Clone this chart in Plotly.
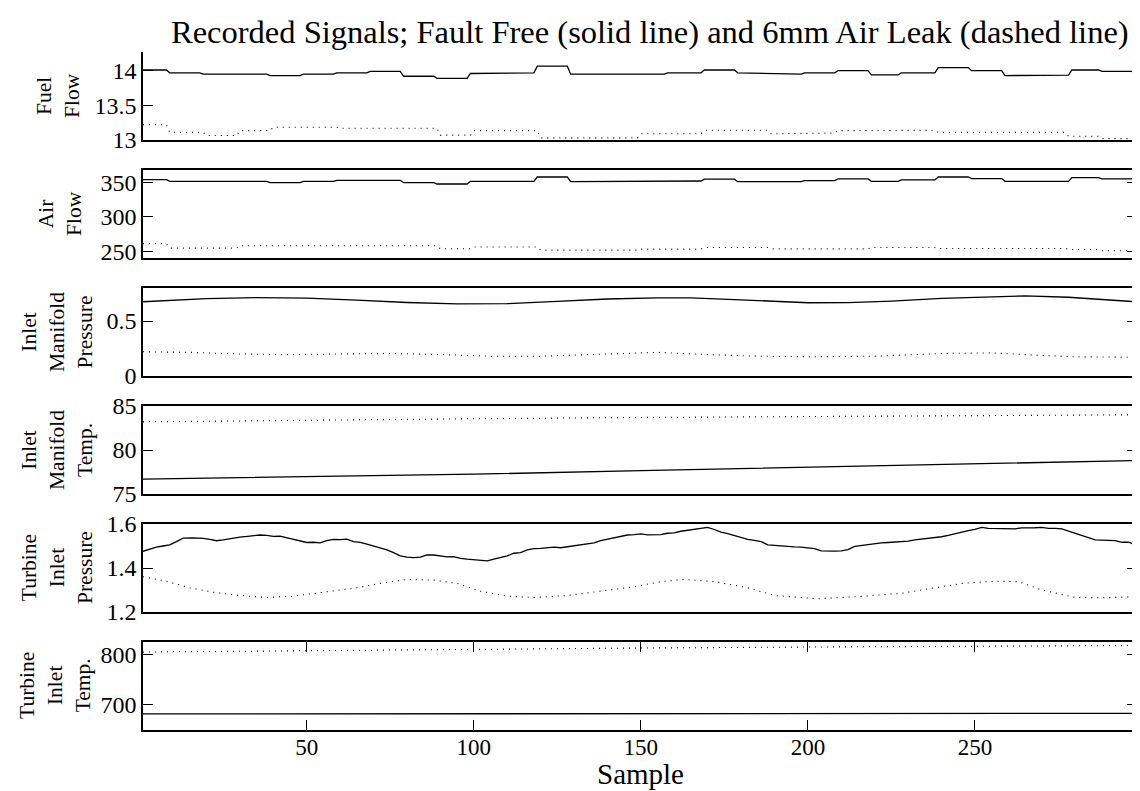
import plotly.graph_objects as go

# ---------------- data ----------------
# Panel 1: Fuel Flow
fuel_ok_x = [1, 8, 9, 18, 19, 38, 39, 48, 49, 58, 59, 68, 69, 78, 79, 88, 89, 98, 99, 108, 109, 118, 119, 128,
             129, 157, 158, 168, 169, 178, 179, 198, 199, 208, 209, 218, 219, 227, 228, 238, 239, 248, 249, 258,
             259, 268, 269, 278, 279, 287, 288, 297, 298]
fuel_ok_y = [14.01, 14.01, 13.97, 13.97, 13.95, 13.95, 13.93, 13.93, 13.95, 13.95, 13.97, 13.97, 13.99, 13.99,
             13.92, 13.92, 13.89, 13.89, 13.96, 13.96, 13.97, 13.97, 14.065, 14.065, 13.95, 13.95, 13.97, 13.97,
             14.01, 14.01, 13.97, 13.95, 13.97, 13.97, 14.00, 14.00, 13.94, 13.94, 13.97, 13.97, 14.045, 14.045,
             14.00, 14.00, 13.93, 13.93, 13.935, 13.935, 14.01, 14.01, 13.99, 13.99, 13.92]
fuel_leak_x = [1, 8, 9, 19, 20, 29, 30, 39, 40, 59, 60, 89, 90, 99, 100, 119, 120, 149, 150, 168, 169, 188,
               189, 198, 199, 208, 209, 218, 219, 238, 239, 277, 278, 287, 288, 298]
fuel_leak_y = [13.22, 13.22, 13.11, 13.11, 13.065, 13.065, 13.135, 13.135, 13.185, 13.185, 13.17, 13.17,
               13.07, 13.07, 13.135, 13.135, 13.03, 13.03, 13.09, 13.09, 13.14, 13.14, 13.09, 13.09, 13.10, 13.10,
               13.135, 13.135, 13.14, 13.14, 13.11, 13.11, 13.055, 13.055, 13.02, 13.02]

# Panel 2: Air Flow
air_ok_x = [1, 8, 9, 38, 39, 48, 49, 58, 59, 78, 79, 88, 89, 98, 99, 118, 119, 128, 129, 157, 158, 168, 169, 178,
            179, 198, 199, 208, 209, 218, 219, 227, 228, 238, 239, 248, 249, 258, 259, 278, 279, 287, 288, 297, 298]
air_ok_y = [353.9, 353.9, 351.5, 351.5, 349.5, 349.5, 351.5, 351.5, 353, 353, 349.5, 349.5, 347.6, 347.6,
            351.5, 351.5, 357.8, 357.8, 351, 351, 352, 352, 354.6, 354.6, 351, 351, 352.5, 352.5, 355, 355,
            351.5, 351.5, 353.5, 353.5, 357.8, 357.8, 355.5, 355.5, 351.5, 351.5, 357, 357, 355, 355, 352]
air_leak_x = [1, 8, 9, 29, 30, 89, 90, 99, 100, 119, 120, 149, 150, 168, 169, 188, 189, 218, 219, 238,
              239, 277, 278, 287, 288, 298]
air_leak_y = [260.7, 260.7, 254.4, 254.4, 257.8, 257.8, 253.5, 253.5, 256, 256, 251.5, 251.5, 252.9, 252.9,
              255.2, 255.2, 253.3, 253.3, 255.2, 255.2, 253.8, 253.8, 252.4, 252.4, 250.5, 250.5]

# Panel 3: Inlet Manifold Pressure
imp_ok_x = [1, 10, 20, 35, 50, 65, 80, 95, 110, 125, 140, 155, 165, 178, 190, 200, 212, 225, 240, 255, 265, 278, 290, 298]
imp_ok_y = [0.675, 0.69, 0.703, 0.713, 0.708, 0.69, 0.668, 0.655, 0.658, 0.678, 0.70, 0.71, 0.71, 0.695,
            0.678, 0.666, 0.667, 0.68, 0.705, 0.722, 0.728, 0.716, 0.695, 0.675]
imp_leak_x = [1, 15, 30, 45, 60, 75, 90, 105, 120, 135, 145, 155, 170, 185, 200, 220, 240, 255, 268, 280, 298]
imp_leak_y = [0.22, 0.215, 0.2, 0.195, 0.2, 0.205, 0.195, 0.18, 0.18, 0.195, 0.21, 0.215, 0.195, 0.18,
              0.175, 0.18, 0.205, 0.21, 0.19, 0.175, 0.17]

# Panel 4: Inlet Manifold Temp.
imt_ok_x = [1, 50, 100, 150, 200, 250, 298]
imt_ok_y = [76.7, 76.95, 77.25, 77.65, 78.05, 78.4, 78.8]
imt_leak_x = [1, 50, 100, 150, 200, 250, 298]
imt_leak_y = [83.2, 83.4, 83.55, 83.7, 83.8, 83.9, 84.0]

# Panel 5: Turbine Inlet Pressure
tip_ok_x = [1, 3, 5, 7, 9, 11, 13, 16, 19, 21, 23, 25, 27, 30, 33, 36, 38, 40, 42, 44, 46, 48, 50, 52, 54, 56,
            58, 60, 62, 64, 66, 68, 70, 72, 74, 76, 78, 80, 82, 84, 86, 88, 90, 92, 94, 96, 98, 100, 102, 104,
            106, 108, 110, 112, 114, 116, 118, 120, 122, 124, 126, 128, 130, 132, 134, 136, 138, 140, 142, 144,
            146, 148, 150, 152, 154, 156, 158, 160, 162, 164, 166, 168, 170, 172, 174, 176, 178, 180, 182, 184,
            186, 188, 190, 192, 194, 196, 198, 200, 202, 204, 206, 208, 210, 212, 214, 216, 218, 220, 222, 224,
            226, 228, 230, 232, 234, 236, 238, 240, 242, 244, 246, 248, 250, 252, 254, 256, 258, 260, 262, 264,
            266, 268, 270, 272, 274, 276, 278, 280, 282, 284, 286, 288, 290, 292, 294, 296, 298]
tip_ok_y = [1.476, 1.485, 1.495, 1.500, 1.505, 1.520, 1.536, 1.537, 1.535, 1.530, 1.524, 1.528, 1.534, 1.540,
            1.545, 1.550, 1.548, 1.544, 1.545, 1.538, 1.532, 1.524, 1.516, 1.517, 1.514, 1.524, 1.530, 1.529,
            1.531, 1.520, 1.516, 1.508, 1.500, 1.490, 1.482, 1.470, 1.455, 1.449, 1.447, 1.449, 1.460, 1.459,
            1.455, 1.451, 1.452, 1.444, 1.440, 1.438, 1.436, 1.432, 1.440, 1.448, 1.455, 1.467, 1.470, 1.482,
            1.488, 1.489, 1.493, 1.495, 1.492, 1.497, 1.500, 1.506, 1.510, 1.514, 1.524, 1.530, 1.536, 1.543,
            1.550, 1.552, 1.555, 1.551, 1.553, 1.552, 1.558, 1.560, 1.567, 1.571, 1.575, 1.580, 1.585, 1.575,
            1.563, 1.556, 1.548, 1.538, 1.530, 1.526, 1.520, 1.505, 1.502, 1.500, 1.498, 1.496, 1.495, 1.493,
            1.488, 1.478, 1.476, 1.477, 1.478, 1.484, 1.498, 1.502, 1.506, 1.512, 1.514, 1.516, 1.518, 1.520,
            1.522, 1.528, 1.531, 1.535, 1.537, 1.542, 1.548, 1.556, 1.562, 1.570, 1.576, 1.585, 1.580, 1.579,
            1.578, 1.580, 1.578, 1.582, 1.581, 1.583, 1.585, 1.580, 1.580, 1.578, 1.568, 1.558, 1.548, 1.540,
            1.528, 1.527, 1.525, 1.524, 1.517, 1.518, 1.505]
tip_leak_x = [1, 8, 15, 22, 30, 38, 46, 55, 65, 72, 80, 88, 95, 102, 110, 118, 128, 138, 148, 156, 163, 172,
              182, 190, 203, 215, 228, 238, 246, 256, 263, 270, 280, 290, 298]
tip_leak_y = [1.36, 1.34, 1.31, 1.29, 1.275, 1.266, 1.272, 1.29, 1.31, 1.33, 1.348, 1.345, 1.33, 1.295, 1.272,
              1.266, 1.275, 1.295, 1.315, 1.338, 1.348, 1.338, 1.31, 1.275, 1.26, 1.27, 1.285, 1.31, 1.33, 1.34,
              1.338, 1.3, 1.266, 1.265, 1.27]

# Panel 6: Turbine Inlet Temp.
tit_ok_x = [1, 100, 200, 298]
tit_ok_y = [682, 682.5, 683, 683]
tit_leak_x = [1, 50, 100, 150, 200, 250, 298]
tit_leak_y = [805, 808, 811, 813, 815, 817, 818]

panel_titles = ["Fuel<br>Flow", "Air<br>Flow", "Inlet<br>Manifold<br>Pressure", "Inlet<br>Manifold<br>Temp.",
                "Turbine<br>Inlet<br>Pressure", "Turbine<br>Inlet<br>Temp."]
y_ranges = [[13, 14.27], [240, 368], [0, 0.8], [75, 85], [1.2, 1.6], [650, 825]]
y_ticks = [[13, 13.5, 14], [250, 300, 350], [0, 0.5], [75, 80, 85], [1.2, 1.4, 1.6], [700, 800]]
y_ticktext = [["13", "13.5", "14"], ["250", "300", "350"], ["0", "0.5"], ["75", "80", "85"],
              ["1.2", "1.4", "1.6"], ["700", "800"]]
x_ticks = [50, 100, 150, 200, 250]
x_title = "Sample"
title_text = "Recorded Signals; Fault Free (solid line) and 6mm Air Leak (dashed line)"

series = [
    (fuel_ok_x, fuel_ok_y, fuel_leak_x, fuel_leak_y),
    (air_ok_x, air_ok_y, air_leak_x, air_leak_y),
    (imp_ok_x, imp_ok_y, imp_leak_x, imp_leak_y),
    (imt_ok_x, imt_ok_y, imt_leak_x, imt_leak_y),
    (tip_ok_x, tip_ok_y, tip_leak_x, tip_leak_y),
    (tit_ok_x, tit_ok_y, tit_leak_x, tit_leak_y),
]

# ---------------- layout geometry ----------------
# The page places the figure 8px from the top-left corner, so the figure
# is made 8px smaller and its margins shifted to land where the reference is.
W, H = 1132, 783
ML, MR, MT, MB = 135, 3, 44, 61
panel_h, gap = 88, 30
plot_h = H - MT - MB
FONT = "Liberation Serif"
TICK_SIZE = 24
XTICK_SIZE = 23
title_shift = [-57, -55, -44, -44, -44, -46]

fig = go.Figure()
layout = dict(
    width=W, height=H, margin=dict(l=ML, r=MR, t=MT, b=MB, autoexpand=False),
    paper_bgcolor="white", plot_bgcolor="white", showlegend=False,
    font=dict(family=FONT, size=TICK_SIZE, color="black"),
)
annotations = []
for k, (xo, yo, xl, yl) in enumerate(series):
    n = k + 1
    xa = "x" if n == 1 else f"x{n}"
    ya = "y" if n == 1 else f"y{n}"
    top = k * (panel_h + gap)
    bot = top + panel_h
    dom = [(plot_h - bot) / plot_h, (plot_h - top) / plot_h]
    fig.add_trace(go.Scatter(x=xl, y=yl, mode="lines", xaxis=xa, yaxis=ya,
                             line=dict(color="black", width=1.1, dash="1px,5px")))
    fig.add_trace(go.Scatter(x=xo, y=yo, mode="lines", xaxis=xa, yaxis=ya,
                             line=dict(color="black", width=1.3)))
    boxed = k > 0
    last = k == 5
    layout["xaxis" if n == 1 else f"xaxis{n}"] = dict(
        domain=[0, 1], anchor=ya, range=[1, 298.5], showgrid=False, zeroline=False, automargin=False,
        showline=True, linecolor="black", linewidth=1.6, mirror=("ticks" if last else True) if boxed else False,
        tickmode="array", tickvals=x_ticks if last else [],
        ticks="inside" if last else "", ticklen=10, tickcolor="black", tickwidth=1,
        ticklabelstandoff=-4,
        showticklabels=last, tickfont=dict(family=FONT, size=XTICK_SIZE),
    )
    layout["yaxis" if n == 1 else f"yaxis{n}"] = dict(
        domain=dom, anchor=xa, range=y_ranges[k], showgrid=False, zeroline=False, automargin=False,
        showline=True, linecolor="black", linewidth=1.6, mirror="ticks" if boxed else False,
        tickmode="array", tickvals=y_ticks[k], ticktext=y_ticktext[k],
        ticks="inside", ticklen=10, tickcolor="black", tickwidth=1,
        tickfont=dict(family=FONT, size=TICK_SIZE),
    )
    annotations.append(dict(
        text=panel_titles[k], xref="paper", yref="paper", x=0, y=(dom[0] + dom[1]) / 2,
        xanchor="right", yanchor="middle", xshift=title_shift[k], textangle=-90, showarrow=False,
        align="center", font=dict(family=FONT, size=21.5, color="black"),
    ))

annotations.append(dict(
    text=title_text, xref="paper", yref="paper", x=0.5, y=1, yanchor="bottom", yshift=0, xshift=10,
    xanchor="center", showarrow=False, font=dict(family=FONT, size=32.5, color="black"),
))
annotations.append(dict(
    text=x_title, xref="paper", yref="paper", x=0.5, y=0, yanchor="bottom", yshift=-MB,
    xanchor="center", showarrow=False, borderpad=0, font=dict(family=FONT, size=29, color="black"),
))
layout["annotations"] = annotations
fig.update_layout(**layout)
fig.write_html("out.html")
